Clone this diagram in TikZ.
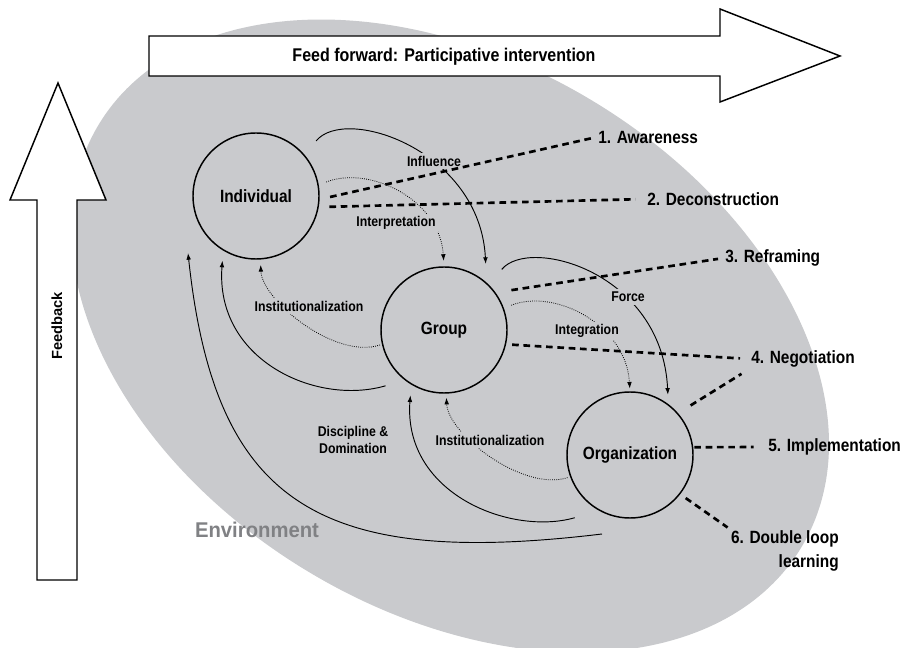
\documentclass[tikz,border=0pt]{standalone}
\usepackage{fontspec}
\setmainfont{Liberation Sans}
\newfontfamily\condfont{Liberation Sans}[FakeStretch=0.87]
\newfontfamily\envfont{Liberation Sans}[FakeStretch=0.95]
\usetikzlibrary{arrows.meta}
\definecolor{envgray}{RGB}{201,202,205}
\definecolor{envtext}{RGB}{128,129,132}

\begin{document}
\begin{tikzpicture}[x=0.75pt,y=0.75pt,yscale=-1,xscale=1,
  actor/.style={circle,draw,line width=1.1pt,minimum size=94.5pt,inner sep=0pt,
    font=\condfont\bfseries\fontsize{13.3}{15}\selectfont},
  lbl/.style={fill=envgray,inner sep=2pt,align=center,
    font=\condfont\bfseries\fontsize{10.6}{12.75}\selectfont},
  stage/.style={inner sep=0.75pt,anchor=west,
    font=\condfont\bfseries\fontsize{13.3}{18}\selectfont},
  flow/.style={line width=0.7pt,-{Latex[length=5pt,width=3.5pt]}},
  tacit/.style={line width=0.6pt,densely dotted,-{Latex[length=5pt,width=3.5pt]}},
  link/.style={line width=2pt,dash pattern=on 5pt off 3.5pt},
  bigarrow/.style={draw,fill=white,line width=1.1pt,line join=miter}]
\useasboundingbox (0,0) rectangle (900,648);

% environment
\fill[envgray,rotate around={31:(450,336)}] (450,336) ellipse [x radius=410,y radius=275];

% feed forward / feedback arrows
\draw[bigarrow] (149,36) -- (720,36) -- (720,9) -- (840,56) -- (720,102) -- (720,76) -- (149,76) -- cycle;
\node[font=\condfont\bfseries\fontsize{13.8}{16}\selectfont] (feed) at (444,57) {Feed forward: Participative intervention};
\draw[bigarrow] (37,580) -- (37,200) -- (10,200) -- (58,83) -- (106,200) -- (77,200) -- (77,580) -- cycle;
\node[rotate=90,font=\bfseries\fontsize{11}{13}\selectfont] (fb) at (57,326) {Feedback};

% levels
\node[actor] (indiv) at (256,196) {Individual};
\node[actor] (group) at (444,330) {Group};
\node[actor] (org) at (630,455) {Organization};

% downward influence
\draw[flow,shorten <=13.5pt,shorten >=14pt] (indiv.40) .. controls (345,105) and (480,150) .. (group.48);
\draw[tacit,shorten <=6pt,shorten >=4pt] (indiv.10) .. controls (370,165) and (440,200) .. (group.north);
\draw[flow,shorten <=15pt,shorten >=7pt] (group.45) .. controls (529,236) and (662,272) .. (org.53);
\draw[tacit,shorten <=6pt,shorten >=2pt] (group.20) .. controls (555,288) and (626,325) .. (org.north);

% upward feedback
\draw[tacit,shorten <=1.5pt,shorten >=4pt] (group.193) .. controls (335,360) and (262,300) .. (indiv.274);
\draw[tacit,shorten <=2pt,shorten >=3pt] (org.200) .. controls (523,492) and (448,434) .. (group.272);
\draw[flow,shorten <=15pt,shorten >=7.5pt] (group.232) .. controls (316,406) and (215,360) .. (indiv.239);
\draw[flow,shorten <=19pt,shorten >=8pt] (org.241) .. controls (511,536) and (403,494) .. (group.239);
\coordinate (envS) at (602,534);
\coordinate (envE) at (188,253);
\draw[flow] (envS) .. controls (319,568) and (215,505) .. (envE);

% arc labels
\node[lbl] (influence) at (434,161) {Influence};
\node[lbl] (interp) at (396,223) {Interpretation};
\node[lbl] (force) at (628,297) {Force};
\node[lbl] (integ) at (587,331) {Integration};
\node[lbl] (instA) at (309,306) {Institutionalization};
\node[lbl] (instB) at (490,440) {Institutionalization};
\node[lbl] (disc) at (353,440) {Discipline \&\\Domination};

% intervention stages
\node[stage] (aware) at (597,137) {1. Awareness};
\node[stage] (decon) at (646,199) {2. Deconstruction};
\node[stage] (refr) at (724,258) {3. Reframing};
\node[stage] (nego) at (750,359) {4. Negotiation};
\node[stage] (impl) at (767,447) {5. Implementation};
\node[stage,anchor=north east,align=right] (dbl) at (840,529) {6. Double loop\\learning};

\draw[link,shorten <=8pt,shorten >=3.5pt] (indiv.-3) -- (aware.west);
\draw[link,shorten <=8pt,shorten >=8pt] (indiv.-10) -- (decon.west);
\draw[link,shorten <=12pt,shorten >=4.5pt] (group.36) -- (refr.west);
\draw[link,shorten <=4.5pt,shorten >=7.5pt] (group.-13) -- (nego.west);
\draw[link,shorten <=11pt,shorten >=7.5pt] (org.41) -- (nego.south west);
\draw[link,shorten <=0.75pt,shorten >=10pt] (org.7) -- (impl.west);
\draw[link,shorten <=5pt,shorten >=2pt] (org.-38) -- (dbl.north west);

\node[font=\envfont\bfseries\fontsize{16}{18}\selectfont,text=envtext] (env) at (257,530) {Environment};

\end{tikzpicture}
\end{document}
